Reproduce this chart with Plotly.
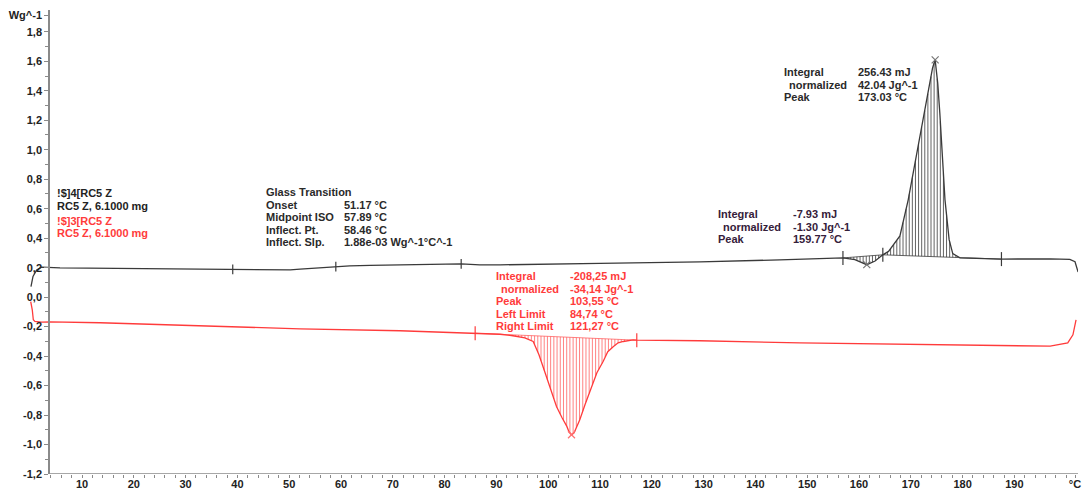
import numpy as np
import plotly.graph_objects as go

# DSC curves (x in °C, y in W/g)
black_x = [0.15, 0.54, 1.25, 2.2, 5.75, 13.5, 23.1, 32.8, 39.1, 50.2, 52.1, 56.0, 59.0,
           61.7, 65.6, 71.4, 77.2, 83.2, 86.8, 90.7, 110.0, 129.3, 144.7, 156.9, 159.2,
           161.5, 163.1, 164.6, 165.7, 166.6, 167.9, 169.5, 170.8, 172.2, 173.3, 174.2,
           174.7, 175.2, 175.6, 176.1, 176.6, 177.4, 178.1, 179.5, 187.5, 196.9, 200.7,
           201.7, 202.3]
black_y = [0.072, 0.14, 0.185, 0.203, 0.198, 0.195, 0.192, 0.188, 0.188, 0.185, 0.19, 0.2,
           0.207, 0.212, 0.216, 0.219, 0.222, 0.226, 0.219, 0.219, 0.229, 0.239, 0.253,
           0.266, 0.255, 0.22, 0.245, 0.287, 0.31, 0.35, 0.415, 0.66, 0.905, 1.17, 1.38,
           1.555, 1.61, 1.45, 1.25, 0.96, 0.66, 0.39, 0.295, 0.266, 0.258, 0.26, 0.256,
           0.24, 0.17]

red_x = [0.1, 0.4, 0.6, 0.9, 2.2, 3.8, 13.5, 32.8, 52.1, 71.4, 85.9, 90.7, 93.2, 95.5,
         97.1, 98.2, 99.4, 100.5, 101.6, 102.7, 103.6, 104.0, 104.5, 105.0, 105.4, 106.1,
         107.1, 108.4, 109.4, 110.6, 111.5, 112.6, 113.5, 114.5, 116.4, 117.1,
         129.3, 148.6, 167.9, 187.2, 196.9, 200.3, 201.3, 201.9]
red_y = [-0.03, -0.086, -0.154, -0.165, -0.17, -0.168, -0.174, -0.195, -0.215, -0.228,
         -0.245, -0.252, -0.262, -0.276, -0.301, -0.39, -0.513, -0.63, -0.742, -0.82,
         -0.877, -0.913, -0.934, -0.92, -0.886, -0.832, -0.73, -0.606, -0.513, -0.437,
         -0.37, -0.335, -0.31, -0.301, -0.29, -0.292, -0.296, -0.31, -0.32, -0.33,
         -0.333, -0.31, -0.256, -0.154]

# evaluation limits / markers
red_limits = [85.9, 117.1]
red_peak = [104.5]
black_dip_limits = [156.9, 164.6]
black_peak_limits = [164.6, 187.5]
black_peaks = [161.5, 174.7]
black_limit_marks = [156.9, 164.6, 187.5]
gt_marks = [39.1, 59.0, 83.2]

x_ticks = [10, 20, 30, 40, 50, 60, 70, 80, 90, 100, 110, 120, 130, 140, 150, 160, 170, 180, 190, 201.7]
x_ticktext = [str(v) for v in x_ticks[:-1]] + ["°C"]
y_ticks = [-1.2, -1.0, -0.8, -0.6, -0.4, -0.2, 0.0, 0.2, 0.4, 0.6, 0.8, 1.0, 1.2, 1.4, 1.6, 1.8, 1.914]
y_ticktext = [f"{v:.1f}".replace(".", ",") for v in y_ticks[:-1]] + ["Wg^-1"]

BLACK = "#3a3a3a"
RED = "#ff3b3b"
FONT = "Liberation Sans, Arial, sans-serif"

W, H = 1085, 491
L, R, T, B = 25, 1078, 10, 474
XR = [10 - (82 - L) / 5.18, 10 + (R - 82) / 5.18]
YR = [-1.2, 1.948]


def px2x(px):
    return XR[0] + (px - L) / (R - L) * (XR[1] - XR[0])


def py2y(py):
    return YR[1] - (py - T) / (B - T) * (YR[1] - YR[0])


def hatch(cx, cy, lo, hi, step, below):
    bx = [lo, hi]
    by = list(np.interp(bx, cx, cy))
    xs, ys = [], []
    for h in np.arange(lo + step / 2, hi, step):
        b = float(np.interp(h, bx, by))
        c = float(np.interp(h, cx, cy))
        if (c < b) == below:
            xs += [h, h, None]
            ys += [b, c, None]
    return xs, ys, bx, by


fig = go.Figure()

# hatching
for cx, cy, lims, step, below, col in [
    (red_x, red_y, red_limits, 0.62, True, "rgba(255,90,90,0.75)"),
    (black_x, black_y, black_dip_limits, 0.6, True, "rgba(60,60,60,0.8)"),
    (black_x, black_y, black_peak_limits, 0.6, False, "rgba(60,60,60,0.8)"),
]:
    hx, hy, bx, by = hatch(cx, cy, lims[0], lims[1], step, below)
    fig.add_trace(go.Scatter(x=hx, y=hy, mode="lines", line=dict(color=col, width=1),
                             hoverinfo="skip", showlegend=False))
    fig.add_trace(go.Scatter(x=bx, y=by, mode="lines", line=dict(color=col, width=1),
                             hoverinfo="skip", showlegend=False))

fig.add_trace(go.Scatter(x=black_x, y=black_y, mode="lines", line=dict(color=BLACK, width=1.3),
                         showlegend=False, name="!$]4[RC5 Z"))
fig.add_trace(go.Scatter(x=red_x, y=red_y, mode="lines", line=dict(color=RED, width=1.3),
                         showlegend=False, name="!$]3[RC5 Z"))

# markers on the curves
for xs, cx, cy, col, sym, size in [
    (gt_marks, black_x, black_y, BLACK, "line-ns", 7),
    (black_limit_marks, black_x, black_y, BLACK, "line-ns", 10),
    (black_peaks, black_x, black_y, "#777777", "x-thin", 7),
    (red_limits, red_x, red_y, RED, "line-ns", 10),
    (red_peak, red_x, red_y, "#ff7070", "x-thin", 7),
]:
    fig.add_trace(go.Scatter(x=xs, y=list(np.interp(xs, cx, cy)), mode="markers",
                             marker=dict(symbol=sym, size=size, line=dict(color=col, width=1.2)),
                             hoverinfo="skip", showlegend=False))

# x axis line starts at the y axis
fig.add_shape(type="line", x0=px2x(49), x1=XR[1], y0=-1.2, y1=-1.2,
              line=dict(color="#8a8a8a", width=1.5), layer="above")

annotations = []


def block(lines, left, top, color, step=12.5, value_left=None):
    for i, row in enumerate(lines):
        label, value = (row, None) if isinstance(row, str) else row
        indent = 5 if label.startswith("  ") else 0
        annotations.append(dict(x=px2x(left + indent), y=py2y(top + i * step), text=label.strip(),
                                xanchor="left", yanchor="middle", showarrow=False,
                                font=dict(color=color, size=11, family=FONT, weight="bold")))
        if value is not None:
            annotations.append(dict(x=px2x(value_left), y=py2y(top + i * step), text=value,
                                    xanchor="left", yanchor="middle", showarrow=False,
                                    font=dict(color=color, size=11, family=FONT, weight="bold")))


block(["!$]4[RC5 Z", "RC5 Z, 6.1000 mg"], 55, 193, "#222222")
block(["!$]3[RC5 Z", "RC5 Z, 6.1000 mg"], 55, 220.5, RED)
block(["Glass Transition", ("Onset", "51.17 °C"), ("Midpoint ISO", "57.89 °C"),
       ("Inflect. Pt.", "58.46 °C"), ("Inflect. Slp.", "1.88e-03 Wg^-1°C^-1")],
      264, 192, "#2a2a2a", value_left=342)
block([("Integral", "-208,25 mJ"), ("  normalized", "-34,14 Jg^-1"), ("Peak", "103,55 °C"),
       ("Left Limit", "84,74 °C"), ("Right Limit", "121,27 °C")],
      494, 276, RED, value_left=568)
block([("Integral", "256.43 mJ"), ("  normalized", "42.04 Jg^-1"), ("Peak", "173.03 °C")],
      782, 72, "#2a2a2a", value_left=856)
block([("Integral", "-7.93 mJ"), ("  normalized", "-1.30 Jg^-1"), ("Peak", "159.77 °C")],
      716, 214, "#35203a", value_left=791)

fig.update_layout(
    width=W, height=H,
    margin=dict(l=L, r=W - R, t=T, b=H - B),
    paper_bgcolor="white", plot_bgcolor="white",
    annotations=annotations,
    xaxis=dict(range=XR, showgrid=False, zeroline=False, showline=False, automargin=False,
               tickvals=x_ticks, ticktext=x_ticktext, ticks="outside", ticklen=3,
               ticklabelstandoff=-3,
               tickcolor="#8a8a8a", tickfont=dict(size=11, family=FONT, color="#222", weight="bold"),
               minor=dict(tickvals=list(range(4, 202, 2)), ticks="outside", ticklen=3,
                          tickcolor="#8a8a8a")),
    yaxis=dict(range=YR, showgrid=False, zeroline=False, showline=True, linecolor="#8a8a8a",
               linewidth=1.5, anchor="free", position=(49 - L) / (R - L), automargin=False,
               tickvals=y_ticks, ticktext=y_ticktext, ticks="outside", ticklen=4,
               tickcolor="#8a8a8a", tickfont=dict(size=11, family=FONT, color="#222", weight="bold"),
               minor=dict(tickvals=[round(-1.1 + 0.2 * i, 1) for i in range(15)], ticks="outside",
                          ticklen=3, tickcolor="#8a8a8a")),
)

# drop the browser's default 8px body margin so the figure fills the window
fig.write_html("out.html", config={"displayModeBar": False},
               post_script="document.body.style.margin='0px';")
